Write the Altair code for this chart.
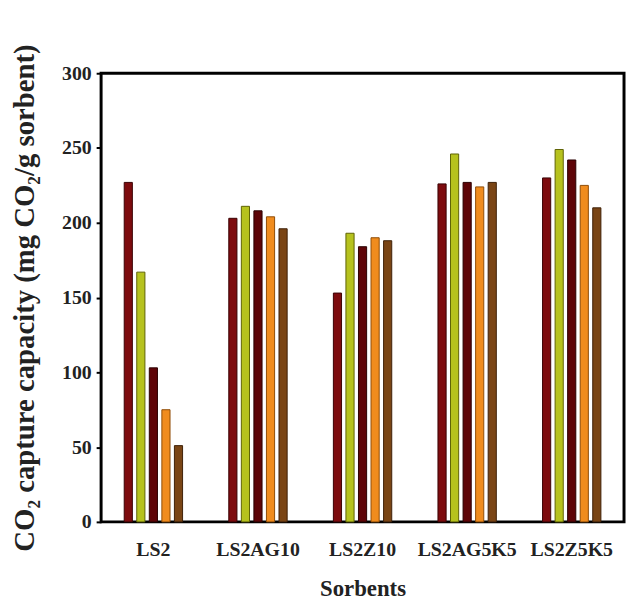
import altair as alt
import pandas as pd

sorbents = ["LS2", "LS2AG10", "LS2Z10", "LS2AG5K5", "LS2Z5K5"]
cycles = ["Cycle 1", "Cycle 2", "Cycle 3", "Cycle 4", "Cycle 5"]
values = {
    "LS2": [227, 167, 103, 75, 51],
    "LS2AG10": [203, 211, 208, 204, 196],
    "LS2Z10": [153, 193, 184, 190, 188],
    "LS2AG5K5": [226, 246, 227, 224, 227],
    "LS2Z5K5": [230, 249, 242, 225, 210],
}
fill_colors = ["#7d0b0e", "#b6c21e", "#5e0407", "#f08c1e", "#7a4515"]
stroke_colors = ["#3a0204", "#5e6205", "#2a0002", "#8f4c06", "#3e2008"]
y_ticks = [0, 50, 100, 150, 200, 250, 300]

rows = []
for s in sorbents:
    for c, v in zip(cycles, values[s]):
        rows.append({"Sorbent": s, "Cycle": c, "Value": v})
df = pd.DataFrame(rows)

FONT = "Liberation Serif"

chart = alt.Chart(df).mark_bar(strokeWidth=1).encode(
    x=alt.X(
        "Sorbent:N",
        sort=sorbents,
        scale=alt.Scale(paddingInner=0.4, paddingOuter=0.2),
        axis=alt.Axis(
            title="Sorbents",
            labelAngle=0,
            ticks=False,
            domain=False,
            labelFont=FONT,
            labelFontSize=20,
            labelFontWeight="bold",
            labelColor="#222222",
            labelPadding=18,
            titleFont=FONT,
            titleFontSize=23,
            titleFontWeight="bold",
            titleColor="#222222",
            titleBaseline="top",
            titleY=56,
        ),
    ),
    xOffset=alt.XOffset(
        "Cycle:N", sort=cycles,
        scale=alt.Scale(paddingInner=0.35, paddingOuter=0.175),
    ),
    y=alt.Y(
        "Value:Q",
        scale=alt.Scale(domain=[0, 300], nice=False),
        axis=alt.Axis(
            values=y_ticks,
            title="CO₂ capture capacity (mg CO₂/g sorbent)",
            grid=False,
            domain=False,
            tickSize=5,
            tickWidth=2,
            tickColor="black",
            labelFont=FONT,
            labelFontSize=20,
            labelFontWeight="bold",
            labelColor="#222222",
            labelPadding=5,
            titleFont=FONT,
            titleFontSize=29,
            titleFontWeight="bold",
            titleColor="#222222",
            titleAngle=270,
            titleAlign="center",
            titleBaseline="middle",
            titleX=-77,
            titleY=226.5,
        ),
    ),
    color=alt.Color("Cycle:N", sort=cycles, scale=alt.Scale(domain=cycles, range=fill_colors), legend=None),
    stroke=alt.Stroke("Cycle:N", sort=cycles, scale=alt.Scale(domain=cycles, range=stroke_colors), legend=None),
).properties(
    width=528,
    height=453,
    background="white",
    autosize=alt.AutoSizeParams(type="none"),
    padding={"left": 94, "top": 63, "right": 2, "bottom": 76},
).configure_view(
    stroke="black", strokeWidth=3
)

chart.save("out.html", embed_options={"renderer": "svg", "actions": False})
